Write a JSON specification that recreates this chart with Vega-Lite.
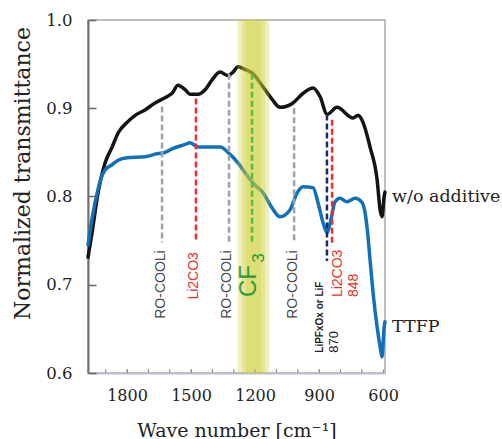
{
  "$schema": "https://vega.github.io/schema/vega-lite/v6.json",
  "width": 297,
  "height": 353,
  "autosize": "none",
  "padding": {"left": 88, "top": 20, "right": 117, "bottom": 66},
  "background": "white",
  "config": {
    "view": {"stroke": "#a8a8a8", "strokeWidth": 1.5},
    "axis": {"labelFont": "DejaVu Serif", "titleFont": "DejaVu Serif", "labelColor": "#222", "titleColor": "#222", "titleFontWeight": "normal", "grid": false}
  },
  "datasets": {
    "curves": [
      {"series": "w/o additive", "w": 1983, "T": 0.731},
      {"series": "w/o additive", "w": 1964, "T": 0.759},
      {"series": "w/o additive", "w": 1936, "T": 0.804},
      {"series": "w/o additive", "w": 1903, "T": 0.838},
      {"series": "w/o additive", "w": 1870, "T": 0.856},
      {"series": "w/o additive", "w": 1842, "T": 0.872},
      {"series": "w/o additive", "w": 1800, "T": 0.884},
      {"series": "w/o additive", "w": 1762, "T": 0.892},
      {"series": "w/o additive", "w": 1716, "T": 0.898},
      {"series": "w/o additive", "w": 1669, "T": 0.906},
      {"series": "w/o additive", "w": 1622, "T": 0.912},
      {"series": "w/o additive", "w": 1589, "T": 0.917},
      {"series": "w/o additive", "w": 1561, "T": 0.926},
      {"series": "w/o additive", "w": 1528, "T": 0.921},
      {"series": "w/o additive", "w": 1505, "T": 0.916},
      {"series": "w/o additive", "w": 1467, "T": 0.916},
      {"series": "w/o additive", "w": 1434, "T": 0.921},
      {"series": "w/o additive", "w": 1402, "T": 0.932},
      {"series": "w/o additive", "w": 1364, "T": 0.941},
      {"series": "w/o additive", "w": 1327, "T": 0.937},
      {"series": "w/o additive", "w": 1303, "T": 0.941},
      {"series": "w/o additive", "w": 1280, "T": 0.947},
      {"series": "w/o additive", "w": 1247, "T": 0.944},
      {"series": "w/o additive", "w": 1209, "T": 0.939},
      {"series": "w/o additive", "w": 1162, "T": 0.924},
      {"series": "w/o additive", "w": 1120, "T": 0.910},
      {"series": "w/o additive", "w": 1083, "T": 0.901},
      {"series": "w/o additive", "w": 1022, "T": 0.906},
      {"series": "w/o additive", "w": 975, "T": 0.917},
      {"series": "w/o additive", "w": 928, "T": 0.923},
      {"series": "w/o additive", "w": 895, "T": 0.913},
      {"series": "w/o additive", "w": 862, "T": 0.893},
      {"series": "w/o additive", "w": 816, "T": 0.901},
      {"series": "w/o additive", "w": 741, "T": 0.889},
      {"series": "w/o additive", "w": 717, "T": 0.892},
      {"series": "w/o additive", "w": 694, "T": 0.884},
      {"series": "w/o additive", "w": 661, "T": 0.856},
      {"series": "w/o additive", "w": 628, "T": 0.819},
      {"series": "w/o additive", "w": 614, "T": 0.785},
      {"series": "w/o additive", "w": 605, "T": 0.777},
      {"series": "w/o additive", "w": 595, "T": 0.800},
      {"series": "w/o additive", "w": 591, "T": 0.805},
      {"series": "TTFP", "w": 1983, "T": 0.745},
      {"series": "TTFP", "w": 1964, "T": 0.775},
      {"series": "TTFP", "w": 1936, "T": 0.808},
      {"series": "TTFP", "w": 1920, "T": 0.822},
      {"series": "TTFP", "w": 1903, "T": 0.830},
      {"series": "TTFP", "w": 1870, "T": 0.836},
      {"series": "TTFP", "w": 1842, "T": 0.841},
      {"series": "TTFP", "w": 1800, "T": 0.844},
      {"series": "TTFP", "w": 1716, "T": 0.845},
      {"series": "TTFP", "w": 1669, "T": 0.848},
      {"series": "TTFP", "w": 1622, "T": 0.850},
      {"series": "TTFP", "w": 1589, "T": 0.854},
      {"series": "TTFP", "w": 1528, "T": 0.859},
      {"series": "TTFP", "w": 1505, "T": 0.861},
      {"series": "TTFP", "w": 1467, "T": 0.856},
      {"series": "TTFP", "w": 1402, "T": 0.856},
      {"series": "TTFP", "w": 1364, "T": 0.856},
      {"series": "TTFP", "w": 1327, "T": 0.850},
      {"series": "TTFP", "w": 1280, "T": 0.838},
      {"series": "TTFP", "w": 1247, "T": 0.827},
      {"series": "TTFP", "w": 1209, "T": 0.815},
      {"series": "TTFP", "w": 1162, "T": 0.804},
      {"series": "TTFP", "w": 1120, "T": 0.787},
      {"series": "TTFP", "w": 1083, "T": 0.777},
      {"series": "TTFP", "w": 1036, "T": 0.785},
      {"series": "TTFP", "w": 1003, "T": 0.804},
      {"series": "TTFP", "w": 975, "T": 0.811},
      {"series": "TTFP", "w": 928, "T": 0.810},
      {"series": "TTFP", "w": 905, "T": 0.793},
      {"series": "TTFP", "w": 881, "T": 0.770},
      {"series": "TTFP", "w": 862, "T": 0.759},
      {"series": "TTFP", "w": 848, "T": 0.770},
      {"series": "TTFP", "w": 825, "T": 0.794},
      {"series": "TTFP", "w": 802, "T": 0.798},
      {"series": "TTFP", "w": 769, "T": 0.794},
      {"series": "TTFP", "w": 731, "T": 0.798},
      {"series": "TTFP", "w": 698, "T": 0.793},
      {"series": "TTFP", "w": 675, "T": 0.765},
      {"series": "TTFP", "w": 661, "T": 0.728},
      {"series": "TTFP", "w": 647, "T": 0.691},
      {"series": "TTFP", "w": 628, "T": 0.652},
      {"series": "TTFP", "w": 614, "T": 0.630},
      {"series": "TTFP", "w": 605, "T": 0.618},
      {"series": "TTFP", "w": 595, "T": 0.652},
      {"series": "TTFP", "w": 591, "T": 0.658}
    ],
    "band": [
      {"from": 1282, "to": 1133},
      {"from": 1262, "to": 1152},
      {"from": 1244, "to": 1172}
    ],
    "minor": [
      {"w": 1900}, {"w": 1800}, {"w": 1700}, {"w": 1600}, {"w": 1500}, {"w": 1400}, {"w": 1300},
      {"w": 1200}, {"w": 1100}, {"w": 1000}, {"w": 900}, {"w": 800}, {"w": 700}
    ],
    "markers": [
      {"kind": "RO-COOLi", "w": 1636, "top": 0.902, "bottom": 0.748},
      {"kind": "Li2CO3", "w": 1477, "top": 0.911, "bottom": 0.748},
      {"kind": "RO-COOLi", "w": 1322, "top": 0.939, "bottom": 0.748},
      {"kind": "CF3", "w": 1214, "top": 0.939, "bottom": 0.748},
      {"kind": "RO-COOLi", "w": 1017, "top": 0.900, "bottom": 0.748},
      {"kind": "LiPFxOx or LiF", "w": 863, "top": 0.893, "bottom": 0.727},
      {"kind": "Li2CO3", "w": 839, "top": 0.887, "bottom": 0.744}
    ],
    "labels": [
      {"group": "upper", "kind": "RO-COOLi", "text": "RO-COOLi", "w": 1643, "T": 0.739},
      {"group": "upper", "kind": "Li2CO3", "text": "Li2CO3", "w": 1488, "T": 0.737},
      {"group": "upper", "kind": "RO-COOLi", "text": "RO-COOLi", "w": 1333, "T": 0.739},
      {"group": "upper", "kind": "RO-COOLi", "text": "RO-COOLi", "w": 1024, "T": 0.739},
      {"group": "lower", "kind": "Li2CO3", "text": "Li2CO3", "w": 813, "T": 0.686},
      {"group": "lower", "kind": "Li2CO3", "text": "848", "w": 736, "T": 0.686},
      {"group": "cf", "kind": "CF3", "text": "CF", "w": 1228, "T": 0.686},
      {"group": "sub", "kind": "CF3", "text": "3", "w": 1181, "T": 0.725},
      {"group": "lipf", "kind": "LiPFxOx or LiF", "text": "LiPFxOx or LiF", "w": 895, "T": 0.623},
      {"group": "num", "kind": "LiPFxOx or LiF", "text": "870", "w": 830, "T": 0.623}
    ],
    "ends": [
      {"text": "w/o additive", "w": 591, "T": 0.800},
      {"text": "TTFP", "w": 591, "T": 0.652}
    ]
  },
  "layer": [
    {
      "data": {"name": "curves"},
      "mark": {"type": "line", "strokeWidth": 3.5, "strokeJoin": "round", "strokeCap": "round", "interpolate": "monotone"},
      "encoding": {
        "x": {"field": "w", "type": "quantitative",
          "scale": {"domain": [591, 1983], "reverse": true, "nice": false, "zero": false},
          "axis": {"title": "Wave number [cm⁻¹]", "values": [1800, 1500, 1200, 900, 600],
            "format": "d", "labelOverlap": false,
            "labelFont": "DejaVu Serif", "titleFont": "DejaVu Serif",
            "tickSize": -4, "tickColor": "#8a8a8a", "domainColor": "#b8c0cc", "domainWidth": 2,
            "labelFontSize": 16, "labelPadding": 18, "titleFontSize": 19, "titlePadding": 18, "labelFlush": false}},
        "y": {"field": "T", "type": "quantitative",
          "scale": {"domain": [0.6, 1.0], "nice": false, "zero": false},
          "axis": {"title": "Normalized transmittance", "values": [0.6, 0.7, 0.8, 0.9, 1.0], "format": ".1f", "labelOverlap": false,
            "labelFont": "DejaVu Serif", "titleFont": "DejaVu Serif",
            "tickSize": -8, "tickColor": "#666", "tickWidth": 1.5, "domainColor": "#707070", "domainWidth": 2,
            "labelFontSize": 16.5, "labelPadding": 24, "titleFontSize": 22, "titleX": -66, "titleY": 153, "titleBaseline": "middle", "titleAlign": "center", "labelFlush": false}},
        "color": {"field": "series", "type": "nominal", "scale": {"domain": ["w/o additive", "TTFP"], "range": ["#141414", "#1170b8"]}, "legend": null}
      }
    },
    {
      "data": {"name": "minor"},
      "mark": {"type": "rule", "color": "#8a8a8a", "strokeWidth": 1},
      "encoding": {
        "x": {"field": "w", "type": "quantitative"},
        "y": {"datum": 0.6},
        "y2": {"datum": 0.6045}
      }
    },
    {
      "data": {"name": "band"},
      "mark": {"type": "rect", "fill": "#cccc33", "opacity": 0.3},
      "encoding": {
        "x": {"field": "from", "type": "quantitative"},
        "x2": {"field": "to"},
        "y": {"datum": 0.6},
        "y2": {"datum": 1.0}
      }
    },
    {
      "data": {"name": "markers"},
      "mark": {"type": "rule", "strokeWidth": 2.5, "strokeDash": [6, 3]},
      "encoding": {
        "x": {"field": "w", "type": "quantitative"},
        "y": {"field": "top", "type": "quantitative"},
        "y2": {"field": "bottom"},
        "stroke": {"field": "kind", "type": "nominal", "scale": {"domain": ["RO-COOLi", "Li2CO3", "CF3", "LiPFxOx or LiF"], "range": ["#9ea2aa", "#e8312f", "#4cc04c", "#1b2a6b"]}, "legend": null}
      }
    },
    {
      "data": {"name": "labels"},
      "transform": [{"filter": "datum.group === 'upper'"}],
      "mark": {"type": "text", "angle": 270, "align": "right", "baseline": "middle", "font": "Liberation Sans", "fontSize": 14},
      "encoding": {
        "x": {"field": "w", "type": "quantitative"},
        "y": {"field": "T", "type": "quantitative"},
        "text": {"field": "text"},
        "fill": {"field": "kind", "type": "nominal", "scale": {"domain": ["RO-COOLi", "Li2CO3", "CF3", "LiPFxOx or LiF"], "range": ["#4a4a4a", "#e8312f", "#2a9a3a", "#222222"]}, "legend": null}
      }
    },
    {
      "data": {"name": "labels"},
      "transform": [{"filter": "datum.group === 'lower'"}],
      "mark": {"type": "text", "angle": 270, "align": "left", "baseline": "middle", "font": "Liberation Sans", "fontSize": 14},
      "encoding": {
        "x": {"field": "w", "type": "quantitative"},
        "y": {"field": "T", "type": "quantitative"},
        "text": {"field": "text"},
        "fill": {"field": "kind", "type": "nominal", "legend": null}
      }
    },
    {
      "data": {"name": "labels"},
      "transform": [{"filter": "datum.group === 'cf'"}],
      "mark": {"type": "text", "angle": 270, "align": "left", "baseline": "middle", "font": "Liberation Sans", "fontSize": 24},
      "encoding": {
        "x": {"field": "w", "type": "quantitative"},
        "y": {"field": "T", "type": "quantitative"},
        "text": {"field": "text"},
        "fill": {"field": "kind", "type": "nominal", "legend": null}
      }
    },
    {
      "data": {"name": "labels"},
      "transform": [{"filter": "datum.group === 'sub'"}],
      "mark": {"type": "text", "angle": 270, "align": "left", "baseline": "middle", "font": "Liberation Sans", "fontSize": 17},
      "encoding": {
        "x": {"field": "w", "type": "quantitative"},
        "y": {"field": "T", "type": "quantitative"},
        "text": {"field": "text"},
        "fill": {"field": "kind", "type": "nominal", "legend": null}
      }
    },
    {
      "data": {"name": "labels"},
      "transform": [{"filter": "datum.group === 'lipf'"}],
      "mark": {"type": "text", "angle": 270, "align": "left", "baseline": "middle", "font": "Liberation Sans", "fontSize": 10, "fontWeight": "bold"},
      "encoding": {
        "x": {"field": "w", "type": "quantitative"},
        "y": {"field": "T", "type": "quantitative"},
        "text": {"field": "text"},
        "fill": {"field": "kind", "type": "nominal", "legend": null}
      }
    },
    {
      "data": {"name": "labels"},
      "transform": [{"filter": "datum.group === 'num'"}],
      "mark": {"type": "text", "angle": 270, "align": "left", "baseline": "middle", "font": "Liberation Sans", "fontSize": 13},
      "encoding": {
        "x": {"field": "w", "type": "quantitative"},
        "y": {"field": "T", "type": "quantitative"},
        "text": {"field": "text"},
        "fill": {"field": "kind", "type": "nominal", "legend": null}
      }
    },
    {
      "data": {"name": "ends"},
      "mark": {"type": "text", "align": "left", "baseline": "middle", "dx": 7, "font": "DejaVu Serif", "fontSize": 17.5, "color": "#222"},
      "encoding": {
        "x": {"field": "w", "type": "quantitative"},
        "y": {"field": "T", "type": "quantitative"},
        "text": {"field": "text"}
      }
    }
  ]
}
